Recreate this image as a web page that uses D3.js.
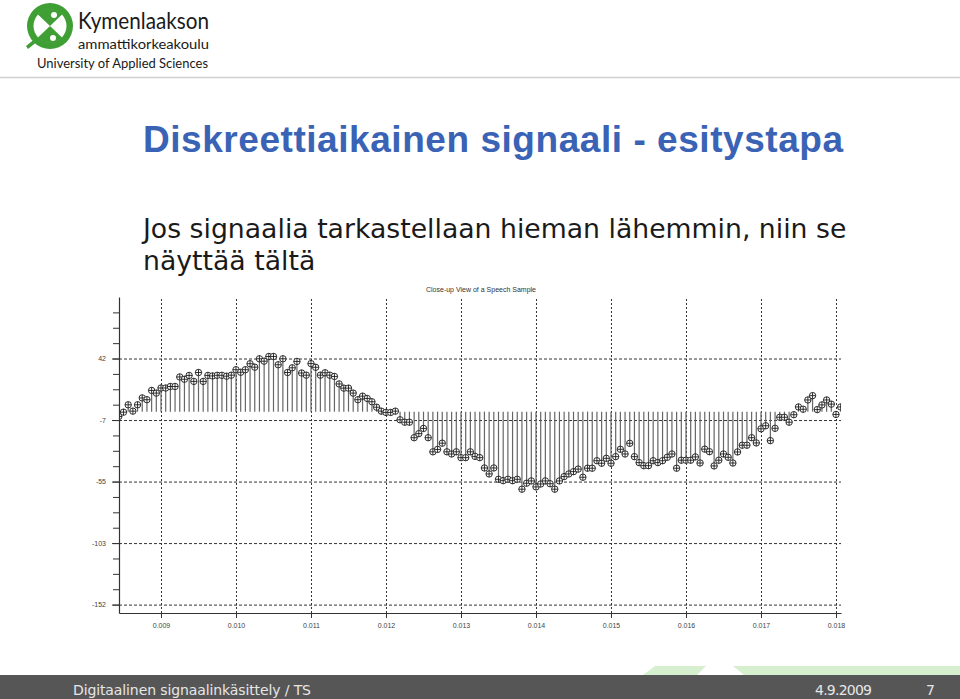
<!DOCTYPE html>
<html>
<head>
<meta charset="utf-8">
<title>Diskreettiaikainen signaali - esitystapa</title>
<script src="https://cdn.jsdelivr.net/npm/d3@7"></script>
<style>
    body { margin: 0; background: #fff; }
    #slide { width: 960px; height: 699px; }
</style>
</head>
<body>
<div id="slide"></div>
<script>
// speech samples (16 kHz)
const sampleRate = 16000;
const firstSampleTime = 0.0084375;
const sampleValues = [
    -3.8, -0.4, 5.4, 0.4, 5.4, 10.8, 9.4, 16.7, 14.6, 18.6,
    18.6, 19.8, 19.8, 27.3, 25.5, 28.5, 23.8, 30.8, 23.8, 28.5,
    28.1, 28.6, 28.6, 27.9, 28.7, 33.0, 31.0, 33.0, 37.7, 35.0,
    41.6, 39.7, 43.4, 43.4, 36.9, 41.6, 30.8, 34.5, 39.5, 30.4,
    28.7, 37.8, 34.9, 28.7, 30.6, 28.7, 27.7, 21.8, 18.5, 18.5,
    14.6, 9.4, 12.2, 10.4, 7.8, 3.5, 0.4, -0.6, -0.6, 0.4,
    -6.4, -8.3, -8.3, -20.5, -17.3, -13.2, -20.5, -31.6, -29.7, -24.8,
    -31.6, -33.3, -31.6, -36.2, -36.2, -31.6, -35.2, -36.2, -44.3, -49.0,
    -44.3, -53.2, -54.3, -53.2, -54.3, -53.2, -61.0, -56.3, -54.5, -59.2,
    -56.9, -54.5, -56.7, -61.0, -54.5, -51.1, -49.0, -47.2, -45.2, -51.6,
    -44.5, -44.5, -38.6, -40.6, -36.7, -40.6, -35.4, -29.6, -33.3, -24.9,
    -35.4, -40.1, -42.5, -42.5, -38.6, -40.1, -38.6, -35.9, -33.3, -44.5,
    -38.2, -38.2, -38.2, -35.6, -40.4, -29.5, -31.5, -42.7, -38.2, -33.3,
    -35.9, -40.4, -31.7, -26.4, -26.4, -20.5, -24.6, -13.5, -11.1, -22.8,
    -13.1, -4.4, -4.4, -8.3, -2.4, 3.7, 1.9, 9.2, 12.6, 1.6,
    5.3, 9.2, 5.9, -2.2, 3.7
];

const xTickValues = [0.009, 0.010, 0.011, 0.012, 0.013, 0.014, 0.015, 0.016, 0.017, 0.018];
const yTickValues = [41.8, -6.6, -55.0, -103.4, -151.8];
const yTickLabels = ["42", "-7", "-55", "-103", "-152"];
const chartTitle = "Close-up View of a Speech Sample";

const slideTitle = "Diskreettiaikainen signaali - esitystapa";
const bodyLines = ["Jos signaalia tarkastellaan hieman lähemmin, niin se", "näyttää tältä"];
const footerText = "Digitaalinen signaalinkäsittely / TS";
const footerDate = "4.9.2009";
const pageNumber = "7";


class StemPlot {

    constructor(_svg, _values, _title) {
        this.svg = _svg;
        this.values = _values;
        this.title = _title;

        this.initVis();
    }

    initVis() {
        let vis = this;

        vis.left = 119;
        vis.right = 841;
        vis.top = 297;
        vis.bottom = 613;

        vis.x = d3.scaleLinear()
            .domain([0.00844, 0.0180667])
            .range([vis.left, vis.right]);

        vis.y = d3.scaleLinear()
            .domain([-158.4, 90.2])
            .range([vis.bottom, vis.top]);

        vis.svg.append("clipPath")
            .attr("id", "plot-clip")
            .append("rect")
            .attr("x", vis.left)
            .attr("y", vis.top)
            .attr("width", vis.right - vis.left)
            .attr("height", vis.bottom - vis.top);

        // chart title
        vis.svg.append("text")
            .attr("x", 481)
            .attr("y", 292)
            .attr("text-anchor", "middle")
            .style("font-family", "'Liberation Sans', Arial, sans-serif")
            .style("font-size", "7px")
            .attr("fill", "#333")
            .text(vis.title);

        vis.wrangleData();
    }

    wrangleData() {
        let vis = this;

        vis.displayData = vis.values.map((v, i) => ({
            time: firstSampleTime + i / sampleRate,
            value: v
        }));

        vis.updateVis();
    }

    updateVis() {
        let vis = this;

        // dashed grid
        let yGrid = vis.svg.append("g")
            .attr("class", "grid")
            .attr("transform", "translate(" + vis.left + ",0)")
            .call(d3.axisLeft(vis.y)
                .tickValues(yTickValues)
                .tickSize(-(vis.right - vis.left))
                .tickFormat(""));
        yGrid.select(".domain").remove();
        yGrid.selectAll("line")
            .attr("stroke", "#333")
            .attr("stroke-dasharray", "3,2");

        let xGrid = vis.svg.append("g")
            .attr("class", "grid")
            .attr("transform", "translate(0," + vis.bottom + ")")
            .call(d3.axisBottom(vis.x)
                .tickValues(xTickValues)
                .tickSize(-(vis.bottom - vis.top))
                .tickFormat(""));
        xGrid.select(".domain").remove();
        xGrid.selectAll("line")
            .attr("stroke", "#333")
            .attr("stroke-dasharray", "2,2");

        let plot = vis.svg.append("g")
            .attr("clip-path", "url(#plot-clip)");

        // stems
        plot.selectAll(".stem")
            .data(vis.displayData)
            .enter()
            .append("line")
            .attr("class", "stem")
            .attr("x1", d => vis.x(d.time))
            .attr("x2", d => vis.x(d.time))
            .attr("y1", vis.y(0))
            .attr("y2", d => vis.y(d.value))
            .attr("stroke", "#666")
            .attr("stroke-width", 1.2);

        // circle-plus markers
        let r = 3.2;
        let marker = plot.selectAll(".marker")
            .data(vis.displayData)
            .enter()
            .append("g")
            .attr("class", "marker")
            .attr("transform", d => "translate(" + vis.x(d.time) + "," + vis.y(d.value) + ")");

        marker.append("circle")
            .attr("r", r)
            .attr("fill", "#fff")
            .attr("stroke", "#1a1a1a")
            .attr("stroke-width", 0.9);

        marker.append("path")
            .attr("d", "M" + (-r) + ",0H" + r + "M0," + (-r) + "V" + r)
            .attr("stroke", "#1a1a1a")
            .attr("stroke-width", 0.9);

        // y axis with minor ticks
        let minorTicks = d3.range(yTickValues[4], 85, (yTickValues[0] - yTickValues[1]) / 4);
        let yMinor = vis.svg.append("g")
            .attr("transform", "translate(" + vis.left + ",0)")
            .call(d3.axisLeft(vis.y)
                .tickValues(minorTicks)
                .tickSize(6)
                .tickSizeOuter(0)
                .tickFormat(""));
        yMinor.select(".domain").remove();
        yMinor.selectAll("line").attr("stroke", "#333");

        let yAxis = vis.svg.append("g")
            .attr("class", "y-axis axis")
            .attr("transform", "translate(" + vis.left + ",0)")
            .call(d3.axisLeft(vis.y)
                .tickValues(yTickValues)
                .tickSize(7)
                .tickSizeOuter(0)
                .tickPadding(6)
                .tickFormat((d, i) => yTickLabels[i]));

        let xAxis = vis.svg.append("g")
            .attr("class", "x-axis axis")
            .attr("transform", "translate(0," + vis.bottom + ")")
            .call(d3.axisBottom(vis.x)
                .tickValues(xTickValues)
                .tickSize(5)
                .tickSizeOuter(0)
                .tickPadding(5)
                .tickFormat(d3.format(".3f")));

        [yAxis, xAxis].forEach(ax => {
            ax.select(".domain").attr("stroke", "#333").attr("stroke-width", 1.2);
            ax.selectAll(".tick line").attr("stroke", "#333");
            ax.selectAll("text")
                .attr("fill", "#444")
                .style("font-family", "'Liberation Sans', Arial, sans-serif")
                .style("font-size", "7px");
        });
    }
}


// slide page around the chart
let svg = d3.select("#slide").append("svg")
    .attr("width", 960)
    .attr("height", 699);

svg.append("rect")
    .attr("width", 960)
    .attr("height", 699)
    .attr("fill", "#fff");

// logo
let logo = svg.append("g").attr("transform", "translate(50,26)");
logo.append("clipPath").attr("id", "logo-clip")
    .append("circle").attr("r", 17);
logo.append("circle").attr("r", 23).attr("fill", "#3f9f35");
logo.append("circle").attr("r", 16.5).attr("fill", "#fff");
logo.append("path")
    .attr("d", "M-22,-21L22,-21L-22,21L22,21Z")
    .attr("fill", "#3f9f35")
    .attr("clip-path", "url(#logo-clip)");
logo.append("circle").attr("cx", 4).attr("cy", -11).attr("r", 3).attr("fill", "#fff");
logo.append("circle").attr("cx", 3).attr("cy", 12).attr("r", 3).attr("fill", "#fff");
logo.append("path")
    .attr("d", "M-24,20L-14,12L-12,15L-22,23Z")
    .attr("fill", "#3f9f35");

svg.append("text")
    .attr("x", 78).attr("y", 29)
    .attr("textLength", 131)
    .attr("lengthAdjust", "spacingAndGlyphs")
    .style("font-family", "Lato, sans-serif")
    .style("font-size", "23px")
    .attr("fill", "#1a1a1a")
    .text("Kymenlaakson");
svg.append("text")
    .attr("x", 78).attr("y", 48.5)
    .attr("textLength", 131)
    .attr("lengthAdjust", "spacingAndGlyphs")
    .style("font-family", "Lato, sans-serif")
    .style("font-size", "13.5px")
    .attr("fill", "#1a1a1a")
    .text("ammattikorkeakoulu");
svg.append("text")
    .attr("x", 37).attr("y", 68)
    .attr("textLength", 171)
    .attr("lengthAdjust", "spacingAndGlyphs")
    .style("font-family", "Lato, sans-serif")
    .style("font-size", "12.5px")
    .attr("fill", "#1a1a1a")
    .text("University of Applied Sciences");

svg.append("line")
    .attr("x1", 0).attr("x2", 960)
    .attr("y1", 77.5).attr("y2", 77.5)
    .attr("stroke", "#d0d0d0")
    .attr("stroke-width", 1.5);

// heading and body text
svg.append("text")
    .attr("x", 143).attr("y", 152)
    .attr("textLength", 700)
    .style("font-family", "'Liberation Sans', Arial, sans-serif")
    .style("font-weight", "bold")
    .style("font-size", "37px")
    .attr("fill", "#3a63b5")
    .text(slideTitle);

svg.selectAll(".body-line")
    .data(bodyLines)
    .enter()
    .append("text")
    .attr("class", "body-line")
    .attr("x", 143)
    .attr("y", (d, i) => 238 + i * 32)
    .style("font-family", "'DejaVu Sans', Verdana, sans-serif")
    .style("font-size", "26.7px")
    .attr("fill", "#1a1a1a")
    .text(d => d);

new StemPlot(svg, sampleValues, chartTitle);

// footer
svg.append("polygon")
    .attr("points", "655,666 706,666 697,675 643,675")
    .attr("fill", "#d6efcf");
svg.append("polygon")
    .attr("points", "733,666 960,666 960,675 744,675")
    .attr("fill", "#d6efcf");
svg.append("rect")
    .attr("x", 0).attr("y", 675)
    .attr("width", 960).attr("height", 24)
    .attr("fill", "#565656");

svg.append("text")
    .attr("x", 73).attr("y", 695)
    .attr("textLength", 238)
    .style("font-family", "'DejaVu Sans', Verdana, sans-serif")
    .style("font-size", "14px")
    .attr("fill", "#e6e6e6")
    .text(footerText);
svg.append("text")
    .attr("x", 815).attr("y", 695)
    .attr("textLength", 57)
    .style("font-family", "'DejaVu Sans', Verdana, sans-serif")
    .style("font-size", "14px")
    .attr("fill", "#e6e6e6")
    .text(footerDate);
svg.append("text")
    .attr("x", 926).attr("y", 695)
    .style("font-family", "'DejaVu Sans', Verdana, sans-serif")
    .style("font-size", "14px")
    .attr("fill", "#e6e6e6")
    .text(pageNumber);
</script>
</body>
</html>
